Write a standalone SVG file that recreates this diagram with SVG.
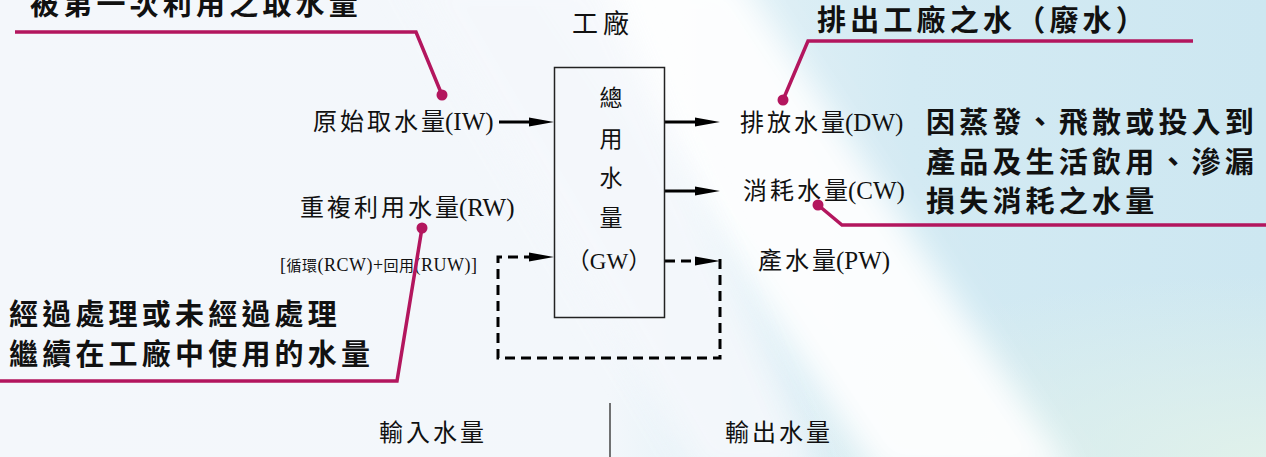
<svg xmlns="http://www.w3.org/2000/svg" width="1266" height="457" viewBox="0 0 1266 457">
<style>
.lbl{font-family:"Liberation Serif","Noto Sans CJK TC",serif;font-size:24px;fill:#111}
.cj{letter-spacing:3px}
.lat{font-size:25px}
.sm{font-size:15px}
.smlat{font-size:18px}
.boxt{font-size:23px}
.big{font-family:"Noto Sans CJK TC","Noto Sans CJK SC",sans-serif;font-size:29px;font-weight:bold;letter-spacing:4.2px;fill:#111}
.box{fill:none;stroke:#222;stroke-width:1.5}
.sol{fill:none;stroke:#000;stroke-width:3}
.dash{fill:none;stroke:#000;stroke-width:3;stroke-dasharray:10 6}
.lead{fill:none;stroke:#b3165e;stroke-width:3.5;stroke-linejoin:miter}
.dot{fill:#b3165e}
</style>
<defs>
<linearGradient id="bg" x1="0" y1="0" x2="1" y2="0">
<stop offset="0" stop-color="#f4f7fb"/>
<stop offset="0.48" stop-color="#f3f7fb"/>
<stop offset="0.58" stop-color="#e0f0f6"/>
<stop offset="0.72" stop-color="#d3eaf3"/>
<stop offset="1" stop-color="#cde7f1"/>
</linearGradient>
<radialGradient id="gr" cx="1" cy="1" r="0.4">
<stop offset="0" stop-color="#e2f2ea" stop-opacity="0.9"/>
<stop offset="1" stop-color="#e2f2ea" stop-opacity="0"/>
</radialGradient>
<filter id="blur" x="-50%" y="-50%" width="200%" height="200%"><feGaussianBlur stdDeviation="16"/></filter>
<marker id="ah" markerUnits="userSpaceOnUse" viewBox="0 0 26 10" markerWidth="26" markerHeight="10" refX="11" refY="5" orient="auto">
<path d="M0,0.5 L25,5 L0,9.5 Z" fill="#000"/>
</marker>
</defs>
<g id="background">
<rect width="1266" height="457" fill="url(#bg)"/>
<rect width="1266" height="457" fill="url(#gr)"/>
<polygon points="540,-30 735,-30 1075,480 880,480" fill="#ffffff" opacity="0.92" filter="url(#blur)"/>
<polygon points="400,-30 600,-30 820,480 700,480" fill="#f5f8fc" opacity="0.9" filter="url(#blur)"/>
</g>
<g id="connectors">
<path class="sol" d="M499,122 H540" marker-end="url(#ah)"/>
<path class="sol" d="M665,122 H706" marker-end="url(#ah)"/>
<path class="sol" d="M665,191 H706" marker-end="url(#ah)"/>
<path class="dash" d="M665,261 H706" marker-end="url(#ah)"/>
<path class="dash" d="M720,259 V358 H498 V257 H540" marker-end="url(#ah)"/>
</g>
<g id="box-GW">
<rect class="box" x="554.5" y="67.5" width="110" height="250"/>
<text class="lbl boxt" text-anchor="middle"><tspan x="611" y="106">總</tspan><tspan x="611" y="147">用</tspan><tspan x="611" y="186">水</tspan><tspan x="611" y="226">量</tspan><tspan x="609" y="269">（GW）</tspan></text>
</g>
<g id="factory-title"><text class="lbl" x="572" y="33" style="font-size:26px;letter-spacing:5px">工廠</text></g>
<g id="node-IW"><text class="lbl" x="313" y="130"><tspan class="cj">原始取水</tspan>量<tspan class="lat">(IW)</tspan></text></g>
<g id="node-RW"><text class="lbl" x="300" y="216"><tspan class="cj">重複利用水</tspan>量<tspan class="lat">(RW)</tspan></text></g>
<g id="node-RW-detail"><text class="lbl sm" x="280" y="271" textLength="197" lengthAdjust="spacing"><tspan class="smlat">[</tspan>循環<tspan class="smlat">(RCW)+</tspan>回用<tspan class="smlat">(RUW)]</tspan></text></g>
<g id="node-DW"><text class="lbl" x="740" y="131"><tspan class="cj">排放水</tspan>量<tspan class="lat">(DW)</tspan></text></g>
<g id="node-CW"><text class="lbl" x="743" y="199"><tspan class="cj">消耗水</tspan>量<tspan class="lat">(CW)</tspan></text></g>
<g id="node-PW"><text class="lbl" x="758" y="269"><tspan class="cj">產水</tspan>量<tspan class="lat">(PW)</tspan></text></g>
<g id="footer">
<line x1="610" y1="403" x2="610" y2="457" stroke="#444" stroke-width="1.5"/>
<text class="lbl" x="379" y="441"><tspan class="cj">輸入水量</tspan></text>
<text class="lbl" x="725" y="441"><tspan class="cj">輸出水量</tspan></text>
</g>
<g id="callouts">
<path class="lead" d="M15,32 H416 L442,95"/>
<circle class="dot" cx="442" cy="95" r="5.5"/>
<text class="big" x="30" y="15">被第一次利用之取水量</text>
<path class="lead" d="M1193,41 H808 L783,100"/>
<circle class="dot" cx="783" cy="100" r="5.5"/>
<text class="big" x="817" y="31">排出工廠之水（廢水）</text>
<path class="lead" d="M422,228 L397,381 H0"/>
<circle class="dot" cx="422" cy="228" r="5.5"/>
<text class="big" x="9" y="325">經過處理或未經過處理</text>
<text class="big" x="9" y="365">繼續在工廠中使用的水量</text>
<path class="lead" d="M818,205 L842,225 H1266"/>
<circle class="dot" cx="818" cy="205" r="5.5"/>
<text class="big" x="926" y="133">因蒸發、飛散或投入到</text>
<text class="big" x="926" y="173">產品及生活飲用、滲漏</text>
<text class="big" x="926" y="212">損失消耗之水量</text>
</g>
</svg>
